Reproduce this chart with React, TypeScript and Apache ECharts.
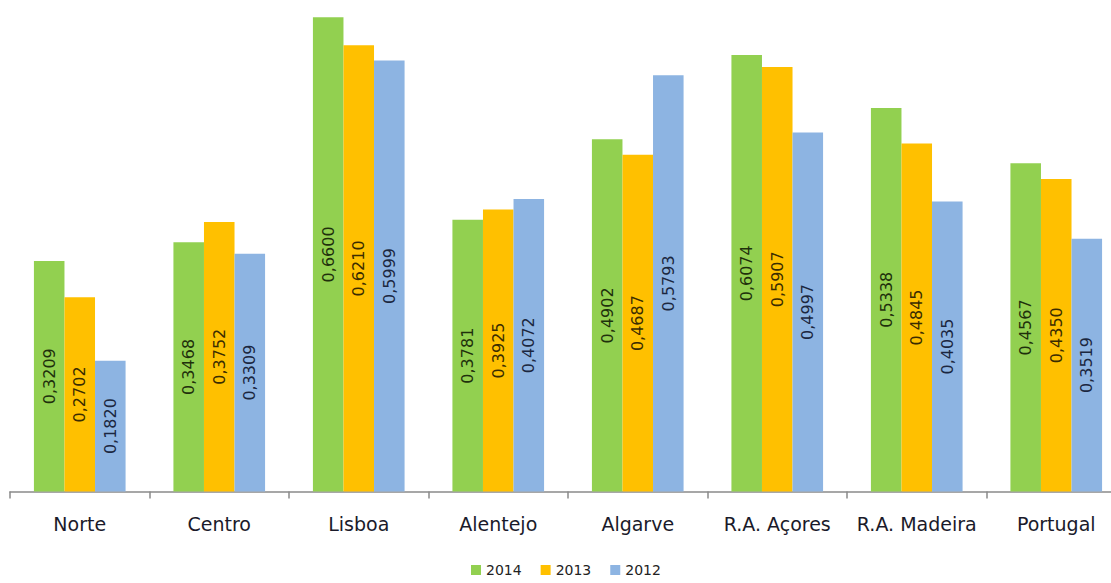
import React, { useEffect, useRef } from "react";
import * as echarts from "echarts";

const categories = ["Norte", "Centro", "Lisboa", "Alentejo", "Algarve", "R.A. Açores", "R.A. Madeira", "Portugal"];
const s2014 = [0.3209, 0.3468, 0.66, 0.3781, 0.4902, 0.6074, 0.5338, 0.4567];
const s2013 = [0.2702, 0.3752, 0.621, 0.3925, 0.4687, 0.5907, 0.4845, 0.435];
const s2012 = [0.182, 0.3309, 0.5999, 0.4072, 0.5793, 0.4997, 0.4035, 0.3519];
const seriesNames = ["2014", "2013", "2012"];
const colors = ["#92D050", "#FFC000", "#8DB4E2"];
const labelColors = ["#1f300c", "#3a2c00", "#1b2740"];

export default function App() {
  const ref = useRef<HTMLDivElement>(null);
  useEffect(() => {
    document.body.style.margin = "0";
    const chart = echarts.init(ref.current!, undefined, { renderer: "svg" });
    const data = [s2014, s2013, s2012];
    chart.setOption({
      animation: false,
      grid: { left: 10, right: 0, top: 17.3, bottom: 91.5, containLabel: false },
      legend: {
        data: seriesNames,
        top: 562,
        left: 471,
        padding: 0,
        icon: "rect",
        itemWidth: 10,
        itemHeight: 10,
        itemGap: 19,
        textStyle: { fontFamily: "DejaVu Sans", fontSize: 14, lineHeight: 16, color: "#222" },
      },
      xAxis: {
        type: "category",
        data: categories,
        axisLine: { lineStyle: { color: "#8a8a8a", width: 1.5 } },
        axisTick: { show: true, length: 7, alignWithLabel: false, lineStyle: { color: "#8a8a8a", width: 1.5 } },
        axisLabel: { fontFamily: "DejaVu Sans", fontSize: 19, color: "#1a1a2a", margin: 23, interval: 0 },
      },
      yAxis: {
        type: "value",
        min: 0,
        max: 0.66,
        show: false,
        splitLine: { show: false },
      },
      series: data.map((d, i) => ({
        name: seriesNames[i],
        type: "bar",
        data: d,
        barWidth: "21.9%",
        barGap: "0%",
        itemStyle: { color: colors[i] },
        label: {
          show: true,
          position: "inside",
          rotate: 90,
          fontFamily: "DejaVu Sans",
          fontSize: 16,
          color: labelColors[i],
          formatter: (p: any) => p.value.toFixed(4).replace(".", ","),
        },
      })),
    });
    return () => chart.dispose();
  }, []);
  return (
    <div style={{ position: "absolute", left: 0, top: 0, width: 1111, height: 583, overflow: "hidden" }}>
      <div ref={ref} style={{ width: 1126, height: 583 }} />
    </div>
  );
}
